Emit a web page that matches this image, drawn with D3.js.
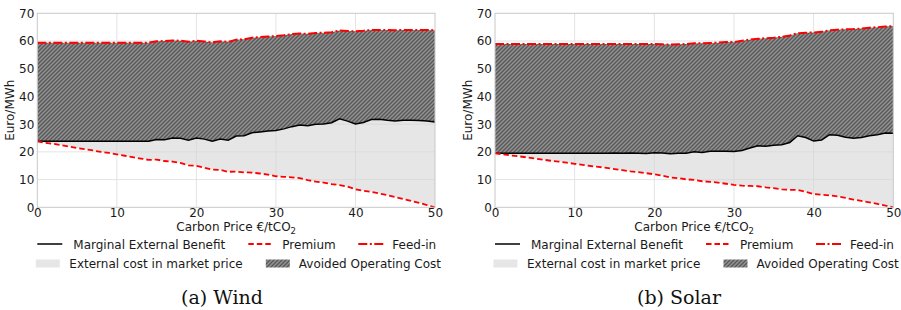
<!DOCTYPE html>
<html><head><meta charset="utf-8">
<script src="https://cdn.jsdelivr.net/npm/d3@7"></script>
<style>
body{margin:0;background:#fff;}
svg{display:block;font-family:"DejaVu Sans",sans-serif;}
</style></head>
<body>
<svg id="c" width="901" height="310"></svg>
<script>
const carbonPrice = [0,1,2,3,4,5,6,7,8,9,10,11,12,13,14,15,16,17,18,19,20,21,22,23,24,25,26,27,28,29,30,31,32,33,34,35,36,37,38,39,40,41,42,43,44,45,46,47,48,49,50];
const xTicks = [0,10,20,30,40,50];
const yTicks = [0,10,20,30,40,50,60,70];

const windMEB = [23.8,23.8,23.8,23.8,23.8,23.8,23.8,23.8,23.8,23.8,23.8,23.8,23.8,23.8,23.8,
  24.5,24.4,25.0,24.9,24.2,25.0,24.6,23.8,24.6,24.2,25.7,25.8,26.9,27.2,27.5,27.7,28.3,29.1,29.7,29.4,30.0,30.1,30.5,31.9,31.1,30.1,30.6,31.7,31.8,31.4,31.1,31.4,31.4,31.3,31.1,30.8];
const windPremium = [23.8,23.3,22.9,22.4,21.9,21.4,21.0,20.5,20.0,19.6,19.1,18.6,18.1,17.6,17.1,
  17.2,16.7,16.5,16.0,15.1,15.0,14.3,13.6,13.5,12.8,12.9,12.6,12.5,12.2,11.8,11.2,11.0,10.8,10.5,9.8,9.3,8.9,8.4,8.0,7.5,6.5,6.0,5.6,5.0,4.4,3.7,3.0,2.3,1.6,0.8,0.0];
const windFeedin = [59.4,59.4,59.4,59.4,59.4,59.4,59.4,59.4,59.4,59.4,59.4,59.4,59.4,59.4,59.4,
  59.9,60.0,60.2,60.1,59.7,60.1,59.8,59.5,59.9,59.7,60.5,60.6,61.2,61.4,61.6,61.8,62.1,62.5,62.7,62.6,62.9,63.0,63.2,63.8,63.6,63.5,63.7,64.0,64.0,64.0,63.9,64.0,64.0,64.0,64.0,63.9];

const solarMEB = [19.5,19.5,19.5,19.5,19.5,19.5,19.5,19.5,19.5,19.5,19.5,19.5,19.5,19.5,19.5,
  19.6,19.5,19.6,19.5,19.4,19.7,19.6,19.3,19.5,19.5,20.0,19.8,20.2,20.2,20.2,20.1,20.5,21.4,22.2,22.0,22.4,22.6,23.4,25.8,25.2,23.9,24.3,26.2,26.0,25.3,24.9,25.2,25.8,26.2,26.8,26.7];
const solarPremium = [19.5,19.1,18.7,18.4,18.0,17.6,17.2,16.8,16.5,16.1,15.7,15.3,14.9,14.6,14.2,13.8,13.4,13.0,12.7,12.3,11.9,
  11.4,10.8,10.5,10.1,9.9,9.4,9.2,8.9,8.5,8.1,7.8,7.7,7.6,7.2,6.9,6.5,6.3,6.3,5.6,4.8,4.5,4.3,3.9,3.4,2.8,2.3,1.8,1.2,0.6,0.0];
const solarFeedin = [58.9,58.9,58.9,58.9,58.9,58.9,58.9,58.9,58.9,58.9,58.9,58.9,58.9,58.9,58.9,58.9,58.9,58.9,58.9,58.9,58.9,58.8,58.7,58.8,58.9,
  59.2,59.2,59.3,59.4,59.6,59.6,60.1,60.5,60.8,61.0,61.2,61.5,62.0,62.8,63.0,63.1,63.3,63.9,64.1,64.2,64.3,64.5,64.8,65.0,65.2,65.4];

const legendLabels = ["Marginal External Benefit","Premium","Feed-in","External cost in market price","Avoided Operating Cost"];
const captions = ["(a) Wind","(b) Solar"];
const yLabel = "Euro/MWh";

const FS = 12;
const TXT = "#1a1a1a";
const svg = d3.select("#c");
const defs = svg.append("defs");
const pat = defs.append("pattern").attr("id","hatch").attr("patternUnits","userSpaceOnUse")
  .attr("width",4).attr("height",4);
pat.append("rect").attr("width",4).attr("height",4).attr("fill","#595959");
pat.append("path").attr("d","M-1,1 l2,-2 M0,4 l4,-4 M3,5 l2,-2")
  .attr("stroke","#939393").attr("stroke-width",1.4);

function txt(g, x, y, s){
  return g.append("text").attr("x",x).attr("y",y).attr("font-size",FS).attr("fill",TXT).text(s);
}

function panel(x0, x1, meb, prem, feed, caption, capX){
  const x = d3.scaleLinear().domain([0,50]).range([x0,x1]);
  const y = d3.scaleLinear().domain([0,70]).range([207.3,13.3]);
  const g = svg.append("g");
  const idx = carbonPrice.map((d,i)=>i);
  g.selectAll(".gx").data(xTicks.slice(1,-1)).join("line")
    .attr("x1",d=>x(d)).attr("x2",d=>x(d)).attr("y1",y(0)).attr("y2",y(70))
    .attr("stroke","#e3e3e3").attr("stroke-width",1);
  g.selectAll(".gy").data(yTicks.slice(1,-1)).join("line")
    .attr("x1",x(0)).attr("x2",x(50)).attr("y1",d=>y(d)).attr("y2",d=>y(d))
    .attr("stroke","#e3e3e3").attr("stroke-width",1);
  g.append("path").datum(idx)
    .attr("d",d3.area().x(i=>x(carbonPrice[i])).y0(i=>y(prem[i])).y1(i=>y(meb[i])))
    .attr("fill","#d6d6d6").attr("fill-opacity",0.6);
  g.append("path").datum(idx)
    .attr("d",d3.area().x(i=>x(carbonPrice[i])).y0(i=>y(meb[i])).y1(i=>y(feed[i])))
    .attr("fill","url(#hatch)");
  g.append("path").datum(idx)
    .attr("d",d3.line().x(i=>x(carbonPrice[i])).y(i=>y(meb[i])))
    .attr("fill","none").attr("stroke","#000").attr("stroke-width",1.5);
  g.append("path").datum(idx)
    .attr("d",d3.line().x(i=>x(carbonPrice[i])).y(i=>y(prem[i])))
    .attr("fill","none").attr("stroke","#ff0000").attr("stroke-width",1.8).attr("stroke-dasharray","5.5,3");
  g.append("path").datum(idx)
    .attr("d",d3.line().x(i=>x(carbonPrice[i])).y(i=>y(feed[i])))
    .attr("fill","none").attr("stroke","#ff0000").attr("stroke-width",2).attr("stroke-dasharray","9,2.5,2,2.5");
  g.append("rect").attr("x",x(0)).attr("y",y(70)).attr("width",x(50)-x(0)).attr("height",y(0)-y(70))
    .attr("fill","none").attr("stroke","#c8c8c8").attr("stroke-width",1);
  const ax = g.append("g").attr("transform",`translate(0,${y(0)})`)
    .call(d3.axisBottom(x).tickValues(xTicks).tickSize(0).tickPadding(1).tickFormat(d3.format("d")));
  ax.select(".domain").remove();
  ax.selectAll("text").attr("font-size",FS).attr("fill",TXT).style("font-family","DejaVu Sans");
  const ay = g.append("g").attr("transform",`translate(${x(0)},0)`)
    .call(d3.axisLeft(y).tickValues(yTicks).tickSize(0).tickPadding(3).tickFormat(d3.format("d")));
  ay.select(".domain").remove();
  ay.selectAll("text").attr("font-size",FS).attr("fill",TXT).style("font-family","DejaVu Sans");
  const xl = g.append("text").attr("x",(x(0)+x(50))/2).attr("y",231).attr("text-anchor","middle").attr("font-size",FS).attr("fill",TXT);
  xl.append("tspan").text("Carbon Price €/tCO");
  xl.append("tspan").text("2").attr("font-size",8.5).attr("dy",2.5);
  g.append("text").attr("transform",`translate(${x(0)-23},${(y(0)+y(70))/2}) rotate(-90)`)
    .attr("text-anchor","middle").attr("font-size",FS).attr("fill",TXT).text(yLabel);
  const L = x0;
  const r1 = 244, r2 = 263.5;
  g.append("line").attr("x1",L).attr("x2",L+25).attr("y1",r1).attr("y2",r1).attr("stroke","#000").attr("stroke-width",1.5);
  txt(g, L+36, r1+4.5, legendLabels[0]);
  g.append("line").attr("x1",L+211).attr("x2",L+236).attr("y1",r1).attr("y2",r1).attr("stroke","#ff0000").attr("stroke-width",1.8).attr("stroke-dasharray","5.5,3");
  txt(g, L+245, r1+4.5, legendLabels[1]);
  g.append("line").attr("x1",L+321).attr("x2",L+346).attr("y1",r1).attr("y2",r1).attr("stroke","#ff0000").attr("stroke-width",2).attr("stroke-dasharray","9,2.5,2,2.5");
  txt(g, L+355, r1+4.5, legendLabels[2]);
  g.append("rect").attr("x",L-1.5).attr("y",r2-4).attr("width",24).attr("height",8).attr("fill","#d6d6d6").attr("fill-opacity",0.6);
  txt(g, L+32, r2+4.5, legendLabels[3]);
  g.append("rect").attr("x",L+228.5).attr("y",r2-4).attr("width",24).attr("height",8).attr("fill","url(#hatch)");
  txt(g, L+261.5, r2+4.5, legendLabels[4]);
  g.append("text").attr("x",capX).attr("y",303.5).attr("text-anchor","middle")
    .style("font-family","'DejaVu Serif',serif").attr("font-size",19).attr("fill","#111")
    .text(caption);
}
panel(37.3, 435, windMEB, windPremium, windFeedin, captions[0], 222);
panel(495, 893.3, solarMEB, solarPremium, solarFeedin, captions[1], 679);
</script>
</body></html>
